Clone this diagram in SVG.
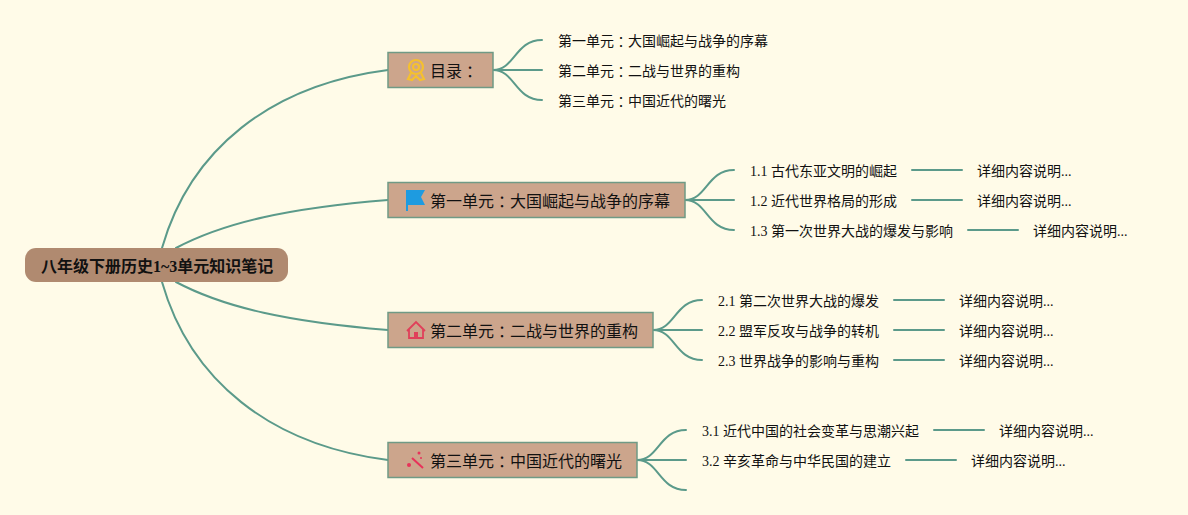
<svg xmlns="http://www.w3.org/2000/svg" width="1188" height="515" viewBox="0 0 1188 515">
<style>
text{font-family:"Liberation Serif","Noto Sans CJK SC",serif;fill:#111;dominant-baseline:central}
.c{font-family:"Noto Sans CJK TC",sans-serif}
.l{font-size:14px}
.b{font-size:16px}
.r{font-size:16px;font-weight:bold;fill:#111}
.n{fill:#cca58c;stroke:#6f9a85;stroke-width:1.5}
#connectors path{fill:none;stroke:#5b9a8a;stroke-width:2;stroke-linecap:round}
</style>
<rect width="1188" height="515" fill="#fffbe8"/>
<g id="connectors">
<path d="M162,248C190,150 270,85 388,70"/>
<path d="M176,248C225,222 290,208 388,200"/>
<path d="M176,282C225,308 290,322 388,330"/>
<path d="M162,282C190,380 270,445 388,460"/>
<path d="M493,70C515,70 515,40 542,40"/>
<path d="M493,70H542"/>
<path d="M493,70C515,70 515,100 542,100"/>
<path d="M685,200C707,200 707,170 734,170"/>
<path d="M685,200H734"/>
<path d="M685,200C707,200 707,230 734,230"/>
<path d="M912,170H962"/><path d="M912,200H962"/><path d="M968,230H1018"/>
<path d="M653,330C675,330 675,300 702,300"/>
<path d="M653,330H702"/>
<path d="M653,330C675,330 675,360 702,360"/>
<path d="M894,300H944"/><path d="M894,330H944"/><path d="M894,360H944"/>
<path d="M637,460C659,460 659,430 686,430"/>
<path d="M637,460H686"/>
<path d="M637,460C659,460 659,490 686,490"/>
<path d="M934,430H984"/><path d="M906,460H956"/>
</g>
<g id="root"><rect x="25" y="248" width="263" height="34" rx="11" fill="#b08a70"/><text class="r" x="41" y="266">八年级下册历史1~3单元知识笔记</text></g>
<g id="n-toc"><rect class="n" x="388" y="52.500" width="105" height="35"/>
<g fill="none" stroke="#f5c02f" stroke-width="2.200"><circle cx="416" cy="67" r="7"/><circle cx="416" cy="67" r="3"/><path d="M411,73L408,79L412,80L416,76L420,80L424,79L421,73"/></g>
<text class="b" x="430" y="71">目录<tspan class="c">：</tspan></text></g>
<g id="n-u1"><rect class="n" x="388" y="182.500" width="297" height="35"/>
<path d="M406,190H425L421,197L425,205H408V211H406Z" fill="#1e9be0"/>
<text class="b" x="430" y="201">第一单元<tspan class="c">：</tspan>大国崛起与战争的序幕</text></g>
<g id="n-u2"><rect class="n" x="388" y="312.500" width="265" height="35"/>
<path d="M407,331L416,322L425,331M409,329V338H423V329" fill="none" stroke="#e0405a" stroke-width="1.800"/><rect x="414" y="332" width="4" height="6" fill="#e0405a"/>
<text class="b" x="430" y="331">第二单元<tspan class="c">：</tspan>二战与世界的重构</text></g>
<g id="n-u3"><rect class="n" x="388" y="442.500" width="249" height="35"/>
<path d="M412,458L423,468" stroke="#e8325a" stroke-width="2"/><circle cx="409" cy="465" r="2" fill="#e8325a"/><circle cx="419" cy="453" r="1.500" fill="#e8325a"/><circle cx="421" cy="458" r="1" fill="#e8325a"/>
<text class="b" x="430" y="461">第三单元<tspan class="c">：</tspan>中国近代的曙光</text></g>
<g id="leaf-toc">
<text class="l" x="558" y="41">第一单元<tspan class="c">：</tspan>大国崛起与战争的序幕</text>
<text class="l" x="558" y="71">第二单元<tspan class="c">：</tspan>二战与世界的重构</text>
<text class="l" x="558" y="101">第三单元<tspan class="c">：</tspan>中国近代的曙光</text></g>
<g id="leaf-u1">
<text class="l" x="750" y="171">1.1 古代东亚文明的崛起</text><text class="l" x="977" y="171">详细内容说明...</text>
<text class="l" x="750" y="201">1.2 近代世界格局的形成</text><text class="l" x="977" y="201">详细内容说明...</text>
<text class="l" x="750" y="231">1.3 第一次世界大战的爆发与影响</text><text class="l" x="1033" y="231">详细内容说明...</text></g>
<g id="leaf-u2">
<text class="l" x="718" y="301">2.1 第二次世界大战的爆发</text><text class="l" x="959" y="301">详细内容说明...</text>
<text class="l" x="718" y="331">2.2 盟军反攻与战争的转机</text><text class="l" x="959" y="331">详细内容说明...</text>
<text class="l" x="718" y="361">2.3 世界战争的影响与重构</text><text class="l" x="959" y="361">详细内容说明...</text></g>
<g id="leaf-u3">
<text class="l" x="702" y="431">3.1 近代中国的社会变革与思潮兴起</text><text class="l" x="999" y="431">详细内容说明...</text>
<text class="l" x="702" y="461">3.2 辛亥革命与中华民国的建立</text><text class="l" x="971" y="461">详细内容说明...</text></g>
</svg>
